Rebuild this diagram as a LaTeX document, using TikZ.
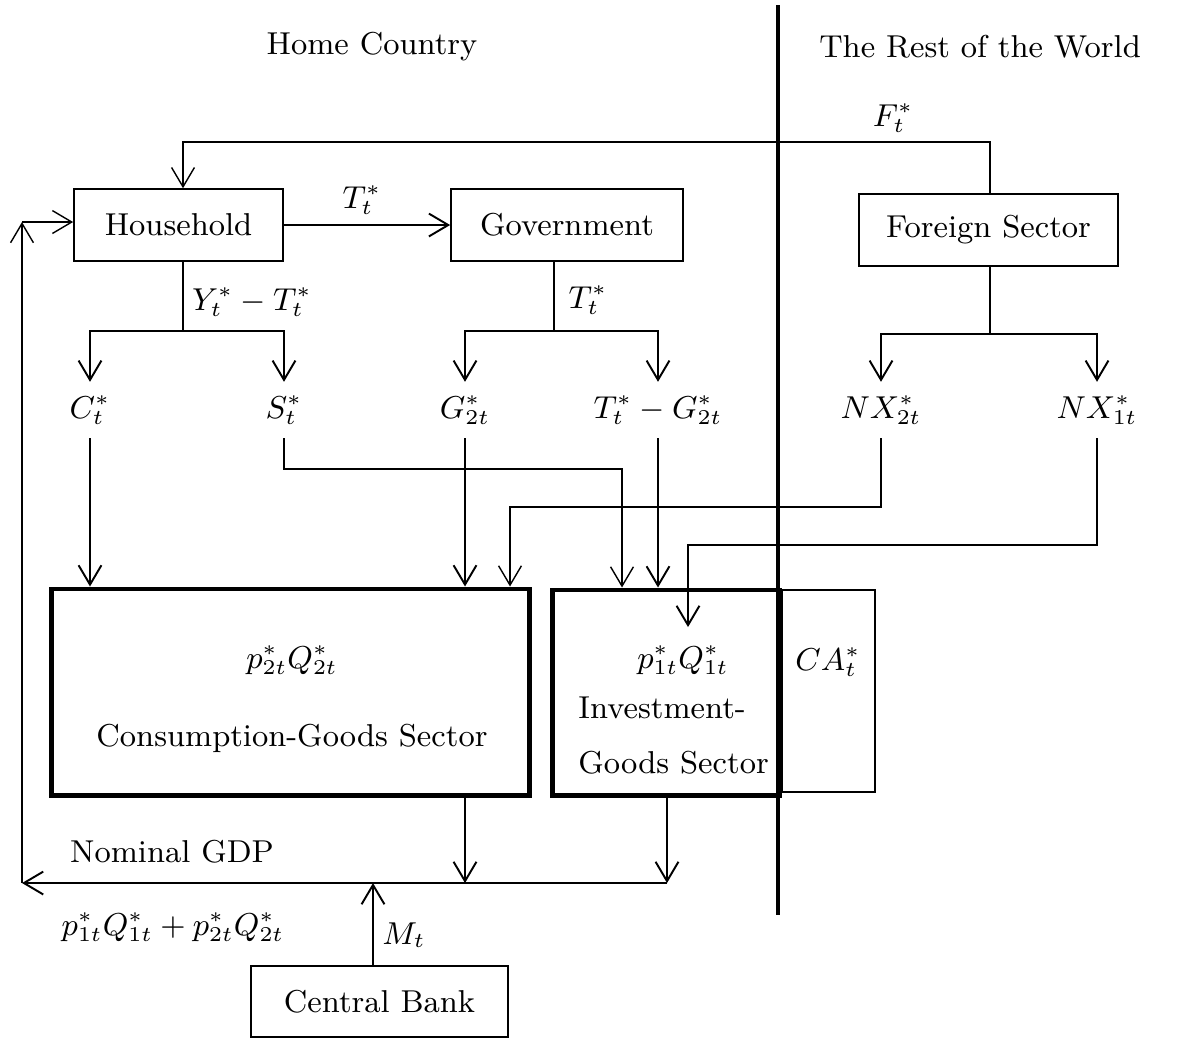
\documentclass[tikz,border=0pt]{standalone}
\usetikzlibrary{arrows.meta}
\tikzset{
  every node/.style={font=\fontsize{9}{11}\selectfont},
  box/.style={draw, line width=0.45pt, inner sep=0pt},
  sector/.style={draw, line width=1.4pt, inner sep=0pt},
  lab/.style={inner sep=0pt, minimum height=0.55cm},
  flow/.style={line width=0.55pt, -{Straight Barb[length=5.5pt,width=6.5pt]}},
  thinflow/.style={line width=0.4pt, -{Straight Barb[length=5.5pt,width=6.5pt]}},
  link/.style={line width=0.55pt},
}
\begin{document}
\begin{tikzpicture}[x=0.01cm,y=-0.01cm]
\useasboundingbox (0,0) rectangle (1195,1056);
\node (home) at (372,47) {Home Country};
\node (world) at (980,47) {The Rest of the World};
\coordinate (divt) at (778,5);
\coordinate (divb) at (778,915);
\draw[line width=1.4pt] (divt) -- (divb);
\node[box, minimum width=2.09cm, minimum height=0.72cm] (hh) at (178.5,225) {Household};
\node[box, minimum width=2.32cm, minimum height=0.72cm] (gov) at (567,225) {Government};
\node[box, minimum width=2.59cm, minimum height=0.72cm] (fs) at (988.5,230) {Foreign Sector};
\node[box, minimum width=2.57cm, minimum height=0.71cm] (cb) at (379.5,1001.5) {Central Bank};
\node[sector, minimum width=4.77cm, minimum height=2.06cm] (cons) at (290.5,692) {};
\node[sector, minimum width=2.26cm, minimum height=2.05cm] (inv) at (666,692.5) {};
\node[box, minimum width=0.93cm, minimum height=2.02cm] (ca) at (828.5,691) {};
\node (pq2) at (292,660) {$p_{2t}^*Q_{2t}^*$};
\node (cgs) at (292,738) {Consumption-Goods Sector};
\node (pq1) at (683,660) {$p_{1t}^*Q_{1t}^*$};
\node[anchor=west] (igs1) at (566,708) {Investment-};
\node[anchor=west] (igs2) at (566,763) {Goods Sector};
\node (cal) at (828,662) {$CA_t^*$};
\node[lab] (c) at (90,410) {$C_t^*$};
\node[lab] (s) at (284,410) {$S_t^*$};
\node[lab] (g) at (465,410) {$G_{2t}^*$};
\node[lab] (tg) at (658,410) {$T_t^*-G_{2t}^*$};
\node[lab] (nx2) at (881,410) {$NX_{2t}^*$};
\node[lab] (nx1) at (1097,410) {$NX_{1t}^*$};
\node (ttl) at (362,200) {$T_t^*$};
\node (ytl) at (252,302) {$Y_t^*-T_t^*$};
\node (tgl) at (588,300) {$T_t^*$};
\node (fl) at (893,118) {$F_t^*$};
\node (gdpl1) at (172,852) {Nominal GDP};
\node (gdpl2) at (173,927) {$p_{1t}^*Q_{1t}^*+p_{2t}^*Q_{2t}^*$};
\node (ml) at (404,935) {$M_t$};
\draw[flow] (hh.east) -- (gov.west);
\coordinate (hhsplit) at (183,331);
\draw[link] (hh.south -| hhsplit) -- (hhsplit);
\draw[flow] (hhsplit) -| (c.north);
\draw[flow] (hhsplit) -| (s.north);
\coordinate (govsplit) at (554,331);
\draw[link] (gov.south -| govsplit) -- (govsplit);
\draw[flow] (govsplit) -| (g.north);
\draw[flow] (govsplit) -| (tg.north);
\coordinate (fssplit) at (990,334);
\draw[link] (fs.south -| fssplit) -- (fssplit);
\draw[flow] (fssplit) -| (nx2.north);
\draw[flow] (fssplit) -| (nx1.north);
\coordinate (ftop) at (990,142);
\draw[thinflow] (fs.north -| ftop) -- (ftop) -| (hhsplit |- hh.north);
\draw[flow] (c.south) -- (c.south |- cons.north);
\draw[flow] (g.south) -- (g.south |- cons.north);
\draw[flow] (tg.south) -- (tg.south |- inv.north);
\coordinate (sin) at (622,469);
\draw[thinflow] (s.south) |- (sin) -- (sin |- inv.north);
\coordinate (nx2in) at (510,507);
\draw[thinflow] (nx2.south) |- (nx2in) -- (nx2in |- cons.north);
\coordinate (nx1in) at (688,545);
\coordinate (nx1end) at (688,627);
\draw[flow] (nx1.south) |- (nx1in) -- (nx1end);
\coordinate (gdpl) at (22,883);
\coordinate (gdpr) at (667,883);
\coordinate (consout) at (465,883);
\coordinate (mup) at (373,883);
\draw[flow] (consout |- cons.south) -- (consout);
\draw[flow] (gdpr |- inv.south) -- (gdpr);
\draw[flow] (gdpr) -- (gdpl);
\draw[flow] (mup |- cb.north) -- (mup);
\coordinate (loopt) at (22,222);
\draw[thinflow] (gdpl) -- (loopt);
\draw[thinflow] (loopt) -- (loopt -| hh.west);
\end{tikzpicture}
\end{document}
